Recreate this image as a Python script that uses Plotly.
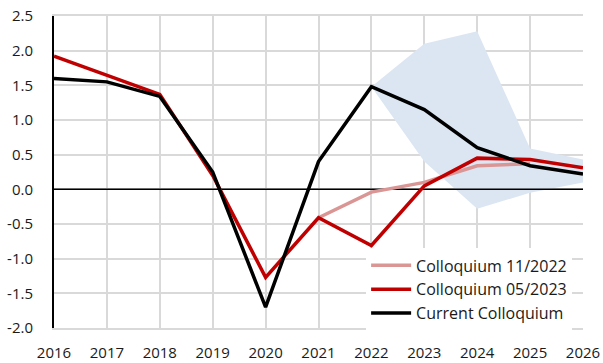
import plotly.graph_objects as go

years = list(range(2016, 2027))
current = [1.60, 1.55, 1.34, 0.25, -1.70, 0.40, 1.48, 1.15, 0.60, 0.34, 0.22]
coll_0523 = [1.92, 1.65, 1.37, 0.20, -1.27, -0.41, -0.81, 0.05, 0.45, 0.43, 0.31]
years_1122 = [2021, 2022, 2023, 2024, 2025]
coll_1122 = [-0.41, -0.04, 0.10, 0.34, 0.37]
band_years = [2022, 2023, 2024, 2025, 2026]
band_upper = [1.48, 2.10, 2.28, 0.59, 0.43]
band_lower = [1.48, 0.40, -0.28, -0.05, 0.10]
y_ticks = [2.5, 2.0, 1.5, 1.0, 0.5, 0.0, -0.5, -1.0, -1.5, -2.0]

FONT = "Open Sans"
GRID = "#D9D9D9"
fig = go.Figure()

fig.add_trace(go.Scatter(
    x=band_years + band_years[::-1], y=band_upper + band_lower[::-1],
    fill="toself", fillcolor="#DCE6F2", line=dict(width=0),
    mode="lines", showlegend=False, hoverinfo="skip"))

fig.add_trace(go.Scatter(x=[years[0], years[-1]], y=[0, 0], mode="lines",
                         line=dict(color="black", width=1.5), showlegend=False,
                         hoverinfo="skip"))

fig.add_trace(go.Scatter(x=years_1122, y=coll_1122, mode="lines",
                         name="Colloquium 11/2022",
                         line=dict(color="#D99694", width=3.5)))
fig.add_trace(go.Scatter(x=years, y=coll_0523, mode="lines",
                         name="Colloquium 05/2023",
                         line=dict(color="#C00000", width=3.5)))
fig.add_trace(go.Scatter(x=years, y=current, mode="lines",
                         name="Current Colloquium",
                         line=dict(color="black", width=3.5)))

fig.update_layout(
    width=603, height=363,
    margin=dict(l=54, r=20, t=16, b=35, autoexpand=False),
    paper_bgcolor="white", plot_bgcolor="white",
    font=dict(family=FONT, size=15, color="#1a1a1a"),
    legend=dict(x=0.59, y=0.255, xanchor="left", yanchor="top",
                bgcolor="white", borderwidth=0,
                font=dict(family=FONT, size=16, color="#1a1a1a"),
                itemwidth=40, tracegroupgap=0),
)
fig.update_xaxes(range=[2016, 2026], tickmode="array", tickvals=years,
                 ticktext=[str(y) for y in years], automargin=False,
                 showgrid=True, gridcolor=GRID, gridwidth=2,
                 zeroline=False, showline=True, linecolor=GRID, linewidth=2,
                 mirror=True, ticks="", ticklabelstandoff=10)
fig.update_yaxes(range=[-2.0, 2.5], tickmode="array", tickvals=y_ticks,
                 ticktext=[f"{v:.1f}" for v in y_ticks], automargin=False,
                 showgrid=True, gridcolor=GRID, gridwidth=2,
                 zeroline=False, showline=True,
                 linecolor="black", linewidth=2,
                 ticks="", ticklabelstandoff=16)

fig.write_html("out.html")
